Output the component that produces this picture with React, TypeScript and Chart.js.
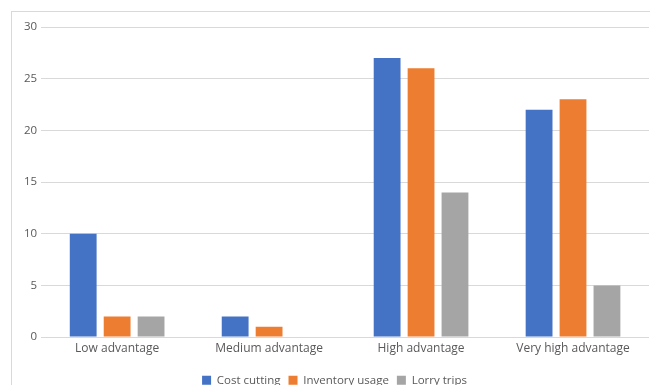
import React, { useEffect, useRef } from "react";
import { Chart, registerables } from "chart.js";

Chart.register(...registerables);

const categories = ["Low advantage", "Medium advantage", "High advantage", "Very high advantage"];
const costCutting = [10, 2, 27, 22];
const inventoryUsage = [2, 1, 26, 23];
const lorryTrips = [2, 0, 14, 5];

const FONT = "'Open Sans', 'Liberation Sans', sans-serif";
const TEXT = "#595959";

export default function App() {
  const ref = useRef<HTMLCanvasElement | null>(null);

  useEffect(() => {
    if (!ref.current) return;
    const chart = new Chart(ref.current, {
      type: "bar",
      data: {
        labels: categories,
        datasets: [
          { label: "Cost cutting", data: costCutting, backgroundColor: "#4472C4" },
          { label: "Inventory usage", data: inventoryUsage, backgroundColor: "#ED7D31" },
          { label: "Lorry trips", data: lorryTrips, backgroundColor: "#A5A5A5" },
        ],
      },
      options: {
        animation: false,
        responsive: false,
        maintainAspectRatio: false,
        datasets: { bar: { categoryPercentage: 0.67, barPercentage: 0.79 } },
        layout: { padding: { left: 8, right: 8, top: 15, bottom: 0 } },
        plugins: {
          tooltip: { enabled: false },
          legend: {
            position: "bottom",
            labels: {
              boxWidth: 9,
              boxHeight: 9,
              padding: 8,
              color: TEXT,
              font: { family: FONT, size: 11.5 },
            },
          },
        },
        scales: {
          x: {
            grid: { display: false, drawTicks: false },
            border: { display: false },
            ticks: { color: TEXT, font: { family: FONT, size: 12 }, padding: 4 },
            // extra room between the category labels and the legend
            afterFit: (scale: any) => {
              scale.height += 7;
            },
          },
          y: {
            min: 0,
            max: 30,
            ticks: { stepSize: 5, color: TEXT, font: { family: FONT, size: 11.5 }, padding: 4 },
            grid: { color: "#d9d9d9", drawTicks: false },
            border: { display: false },
          },
        },
      },
    });
    return () => chart.destroy();
  }, []);

  return (
    <div
      style={{
        position: "absolute",
        left: 11,
        top: 11,
        width: 645,
        height: 384,
        border: "1px solid #d9d9d9",
        background: "#fff",
      }}
    >
      <canvas ref={ref} width={645} height={384} style={{ display: "block" }} />
    </div>
  );
}
